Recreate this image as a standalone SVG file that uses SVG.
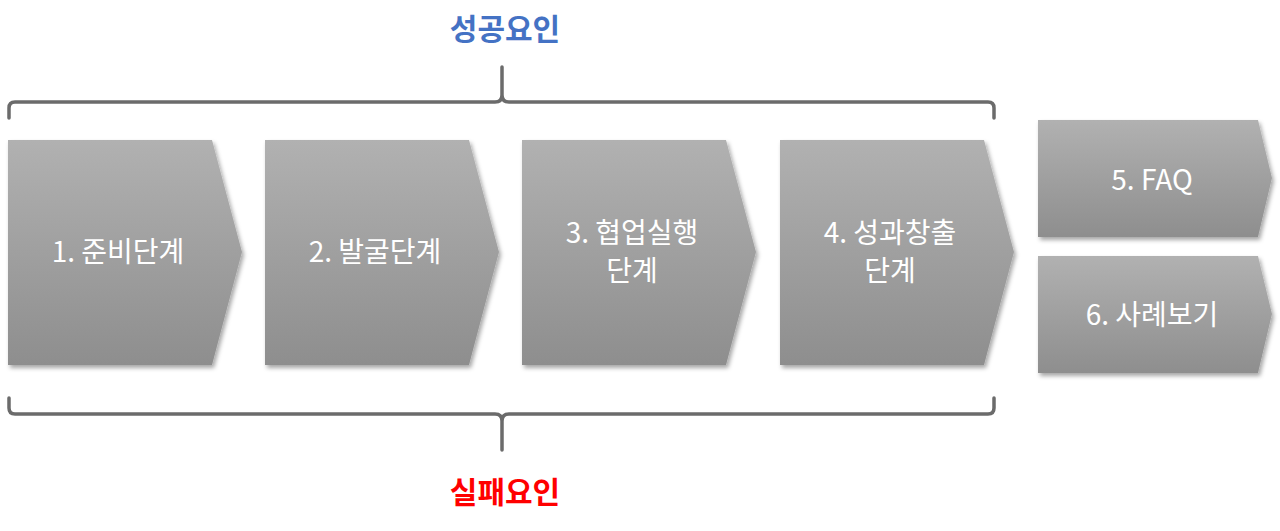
<svg xmlns="http://www.w3.org/2000/svg" width="1280" height="531" viewBox="0 0 1280 531">
<style>
.n{fill:url(#g);filter:url(#sh)}
.t{font-family:"Noto Sans CJK KR","Noto Sans",sans-serif;font-size:28px;fill:#fff;text-anchor:middle}
.h{font-family:"Noto Sans CJK KR",sans-serif;font-size:30px;font-weight:bold;text-anchor:middle}
.b{fill:none;stroke:#6b6b6b;stroke-width:3.5;stroke-linecap:round;stroke-linejoin:round}
</style>
<defs>
<linearGradient id="g" x1="0" y1="0" x2="0" y2="1"><stop offset="0" stop-color="#b1b1b1"/><stop offset="1" stop-color="#8e8e8e"/></linearGradient>
<filter id="sh" x="-10%" y="-10%" width="125%" height="125%"><feDropShadow dx="2" dy="3" stdDeviation="2" flood-opacity="0.35"/></filter>
</defs>
<text class="h" x="505" y="40" fill="#4472C4">성공요인</text>
<text class="h" x="505" y="503" fill="#FF0000">실패요인</text>
<g id="connectors">
<path class="b" d="M9,118 V108 Q9,102 15,102 H495 Q502,102 502,95 V67 M502,95 Q502,102 509,102 H988 Q994,102 994,108 V118"/>
<path class="b" d="M9,398 V408 Q9,414 15,414 H495 Q502,414 502,421 V450 M502,421 Q502,414 509,414 H988 Q994,414 994,408 V398"/>
</g>
<g id="n1"><polygon class="n" points="8,140 212,140 242,252 212,365 8,365"/><text class="t" x="118" y="262">1. 준비단계</text></g>
<g id="n2"><polygon class="n" points="265,140 469,140 499,252 469,365 265,365"/><text class="t" x="375" y="262">2. 발굴단계</text></g>
<g id="n3"><polygon class="n" points="522,140 726,140 756,252 726,365 522,365"/><text class="t" x="632" y="243">3. 협업실행</text><text class="t" x="632" y="281">단계</text></g>
<g id="n4"><polygon class="n" points="780,140 984,140 1014,252 984,365 780,365"/><text class="t" x="890" y="243">4. 성과창출</text><text class="t" x="890" y="281">단계</text></g>
<g id="n5"><polygon class="n" points="1038,120 1258,120 1272,178 1258,237 1038,237"/><text class="t" x="1152" y="190">5. FAQ</text></g>
<g id="n6"><polygon class="n" points="1038,256 1258,256 1272,314 1258,373 1038,373"/><text class="t" x="1152" y="325">6. 사례보기</text></g>
</svg>
